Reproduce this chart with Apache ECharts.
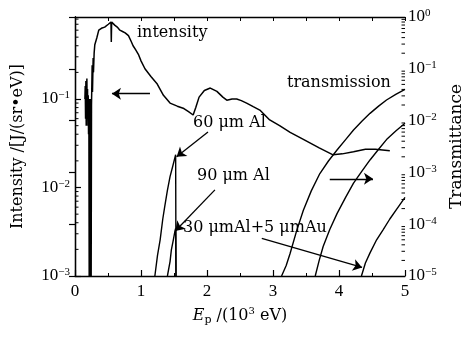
<!DOCTYPE html>
<html>
<head>
<meta charset="utf-8">
<script src="https://cdn.jsdelivr.net/npm/echarts@6/dist/echarts.min.js"></script>
<style>html,body{margin:0;padding:0;background:#fff;}#c{width:465px;height:337px;}</style>
</head>
<body>
<div id="c"></div>
<script>
// ---- Data ----
const intensityX = [0.15,0.155,0.16,0.165,0.17,0.175,0.18,0.185,0.19,0.195,0.20,0.205,0.21,0.215,0.22,0.225,0.23,0.235,0.24,0.245,0.25,0.26,0.265,0.275,0.28,0.29,0.30,0.33,0.36,0.40,0.45,0.48,0.505,0.53,0.545,0.55,0.555,0.58,0.606,0.64,0.68,0.72,0.76,0.81,0.85,0.88,0.92,0.96,1.0,1.06,1.15,1.24,1.34,1.44,1.55,1.65,1.72,1.79,1.83,1.88,1.96,2.05,2.15,2.24,2.3,2.38,2.45,2.52,2.6,2.7,2.8,2.95,3.1,3.26,3.46,3.7,3.91,4.05,4.22,4.4,4.55,4.77];
const intensityY = [0.10,0.14,0.06,0.16,0.05,0.12,0.17,0.06,0.13,0.05,0.11,0.04,0.10,0.001,0.09,0.001,0.10,0.001,0.085,0.001,0.085,0.24,0.12,0.29,0.2,0.33,0.41,0.49,0.60,0.63,0.65,0.67,0.70,0.72,0.74,0.44,0.74,0.71,0.68,0.65,0.60,0.58,0.56,0.52,0.45,0.40,0.36,0.32,0.27,0.22,0.18,0.15,0.11,0.09,0.083,0.078,0.072,0.066,0.08,0.105,0.125,0.133,0.122,0.105,0.097,0.1,0.1,0.096,0.09,0.082,0.075,0.058,0.05,0.042,0.035,0.028,0.0234,0.024,0.0254,0.027,0.027,0.026];

// 60 um Al transmission (below and above the Al K edge)
const al60LowX  = [1.21,1.25,1.29,1.33,1.36,1.40,1.44,1.48,1.525,1.53];
const al60LowY  = [1.0e-5,2.5e-5,5.0e-5,1.26e-4,2.2e-4,4.5e-4,8.3e-4,1.3e-3,2.2e-3,1.0e-5];
const al60HighX = [3.13,3.2,3.26,3.36,3.46,3.58,3.71,3.84,3.97,4.1,4.22,4.35,4.47,4.6,4.72,4.86,5.0];
const al60HighY = [1.0e-5,1.6e-5,2.75e-5,7.6e-5,1.86e-4,4.4e-4,9.5e-4,1.66e-3,2.7e-3,4.3e-3,6.6e-3,9.8e-3,1.38e-2,1.9e-2,2.5e-2,3.2e-2,4.0e-2];
// 90 um Al
const al90LowX  = [1.40,1.44,1.46,1.49,1.515,1.525,1.53];
const al90LowY  = [1.0e-5,1.9e-5,3.2e-5,5.0e-5,7.4e-5,8.3e-5,1.0e-5];
const al90HighX = [3.64,3.7,3.76,3.86,3.97,4.1,4.22,4.35,4.47,4.6,4.72,4.86,5.0];
const al90HighY = [1.0e-5,2.0e-5,3.7e-5,7.9e-5,1.6e-4,3.3e-4,6.2e-4,1.07e-3,1.74e-3,2.8e-3,4.3e-3,6.3e-3,8.9e-3];
// 30 um Al + 5 um Au
const alAuX = [4.34,4.4,4.47,4.57,4.67,4.77,4.88,5.0];
const alAuY = [1.0e-5,1.78e-5,2.8e-5,5.0e-5,7.9e-5,1.26e-4,2.0e-4,3.3e-4];

const xTicks = [0,1,2,3,4,5];

// ---- helpers ----
const zip = (xs, ys) => xs.map((x, i) => [x, ys[i]]);
const SERIF = 'DejaVu Serif';
const NUM = 'Liberation Serif';
function powLabel(v){
  const l = Math.log10(v), e = Math.round(l);
  if (Math.abs(l - e) > 1e-6) return '';
  return '{b|10}{s|' + (e < 0 ? '\u2212' + (-e) : e) + '}';
}
const powRich = {
  b:{fontFamily:NUM,fontSize:17,color:'#000',lineHeight:18},
  s:{fontFamily:NUM,fontSize:11,color:'#000',verticalAlign:'top',lineHeight:18}
};
function minorVals(lo, hi){
  const out = [];
  for (let e = Math.floor(Math.log10(lo)); e <= 0; e++){
    for (let k = 2; k <= 9; k++){ const v = k*Math.pow(10,e); if (v > lo && v < hi) out.push(v); }
  }
  return out;
}
const lineBase = {type:'line', showSymbol:false, symbol:'none', animation:false, silent:true,
  lineStyle:{color:'#000', width:1.4}, emphasis:{disabled:true}};
const arrowStyle = {symbol:['none','arrow'], symbolSize:9, silent:true, animation:false,
  label:{show:false}, lineStyle:{color:'#000', width:1.3, type:'solid'}, itemStyle:{color:'#000'},
  emphasis:{disabled:true}};

const chart = echarts.init(document.getElementById('c'), null, {renderer:'canvas'});
const axisLineStyle = {show:true, lineStyle:{color:'#000', width:1.3}};

chart.setOption({
  animation:false,
  backgroundColor:'#fff',
  grid:{left:75, right:60, top:17, bottom:61, containLabel:false, outerBoundsMode:'none'},
  xAxis:[
    {type:'value', min:0, max:5, interval:1, position:'bottom',
     axisLine:axisLineStyle,
     axisTick:{show:true, inside:true, length:6, lineStyle:{color:'#000', width:1.2}},
     minorTick:{show:true, splitNumber:2, length:3, lineStyle:{color:'#000', width:1}},
     splitLine:{show:false},
     axisLabel:{fontFamily:NUM, fontSize:17, color:'#000', margin:7},
     name:'{i|E}{p|p}{n| /(10}{u|3}{n| eV)}', nameLocation:'middle', nameGap:30,
     nameTextStyle:{rich:{
       i:{fontFamily:SERIF, fontStyle:'italic', fontSize:16, color:'#000', lineHeight:20},
       p:{fontFamily:SERIF, fontSize:11, color:'#000', verticalAlign:'bottom', lineHeight:20},
       n:{fontFamily:SERIF, fontSize:16, color:'#000', lineHeight:20},
       u:{fontFamily:SERIF, fontSize:10, color:'#000', verticalAlign:'top', lineHeight:20}
     }}},
    {type:'value', min:0, max:5, interval:0.5, position:'top',
     axisLine:axisLineStyle,
     axisTick:{show:true, inside:true, length:4, lineStyle:{color:'#000', width:1}},
     axisLabel:{show:false}, splitLine:{show:false}}
  ],
  yAxis:[
    {type:'log', logBase:10, min:0.001, max:0.845, position:'left',
     axisLine:axisLineStyle,
     axisTick:{show:true, inside:true, length:6, lineStyle:{color:'#000', width:1.2}},
     splitLine:{show:false},
     axisLabel:{formatter:powLabel, rich:powRich, margin:5, showMaxLabel:false},
     name:'Intensity /[J/(sr\u2022eV)]', nameLocation:'middle', nameRotate:90, nameGap:49,
     nameTextStyle:{fontFamily:SERIF, fontSize:16, color:'#000'}},
    {type:'log', logBase:10, min:1e-5, max:1, position:'right',
     axisLine:axisLineStyle,
     axisTick:{show:true, inside:true, length:6, lineStyle:{color:'#000', width:1.2}},
     splitLine:{show:false},
     axisLabel:{formatter:powLabel, rich:powRich, margin:3},
     name:'Transmittance', nameLocation:'middle', nameRotate:90, nameGap:38,
     nameTextStyle:{fontFamily:SERIF, fontSize:17, color:'#000'}}
  ],
  series:[
    Object.assign({}, lineBase, {name:'intensity', xAxisIndex:0, yAxisIndex:0, data:zip(intensityX, intensityY),
      lineStyle:{color:'#000', width:1.5},
      markLine:Object.assign({}, arrowStyle, {data:[[{coord:[1.136,0.115]},{coord:[0.56,0.115]}]]})}),
    Object.assign({}, lineBase, {name:'60 um Al low', xAxisIndex:0, yAxisIndex:1, data:zip(al60LowX, al60LowY),
      markLine:Object.assign({}, arrowStyle, {data:[
        [{coord:[2.015,0.006]},{coord:[1.54,0.002]}],
        [{coord:[2.12,4.6e-4]},{coord:[1.52,7.4e-5]}],
        [{coord:[2.83,5.3e-5]},{coord:[4.35,1.46e-5]}],
        [{coord:[3.86,7.5e-4]},{coord:[4.515,7.5e-4]}]
      ]})}),
    Object.assign({}, lineBase, {name:'60 um Al high', xAxisIndex:0, yAxisIndex:1, data:zip(al60HighX, al60HighY)}),
    Object.assign({}, lineBase, {name:'90 um Al low', xAxisIndex:0, yAxisIndex:1, data:zip(al90LowX, al90LowY)}),
    Object.assign({}, lineBase, {name:'90 um Al high', xAxisIndex:0, yAxisIndex:1, data:zip(al90HighX, al90HighY)}),
    Object.assign({}, lineBase, {name:'30 um Al + 5 um Au', xAxisIndex:0, yAxisIndex:1, data:zip(alAuX, alAuY)}),
    // minor log ticks (left & right axes)
    {type:'custom', xAxisIndex:0, yAxisIndex:0, silent:true, animation:false, clip:false,
     data:minorVals(0.001, 0.845).map(v => [0, v]),
     renderItem:(p, api) => { const c = api.coord([api.value(0), api.value(1)]);
       return {type:'line', shape:{x1:c[0], y1:c[1], x2:c[0]+3.5, y2:c[1]}, style:{stroke:'#000', lineWidth:1}}; }},
    {type:'custom', xAxisIndex:0, yAxisIndex:1, silent:true, animation:false, clip:false,
     data:minorVals(1e-5, 1).map(v => [5, v]),
     renderItem:(p, api) => { const c = api.coord([api.value(0), api.value(1)]);
       return {type:'line', shape:{x1:c[0], y1:c[1], x2:c[0]-3.5, y2:c[1]}, style:{stroke:'#000', lineWidth:1}}; }}
  ],
  graphic:[
    {type:'text', left:137, top:25, silent:true, style:{text:'intensity', font:'16px "DejaVu Serif"', fill:'#000'}},
    {type:'text', left:287, top:75, silent:true, style:{text:'transmission', font:'16px "DejaVu Serif"', fill:'#000'}},
    {type:'text', left:193, top:115, silent:true, style:{text:'60 \u03bcm Al', font:'16px "DejaVu Serif"', fill:'#000'}},
    {type:'text', left:197, top:168, silent:true, style:{text:'90 \u03bcm Al', font:'16px "DejaVu Serif"', fill:'#000'}},
    {type:'text', left:183, top:220, silent:true, style:{text:'30 \u03bcmAl+5 \u03bcmAu', font:'16px "DejaVu Serif"', fill:'#000'}}
  ]
});
</script>
</body>
</html>
